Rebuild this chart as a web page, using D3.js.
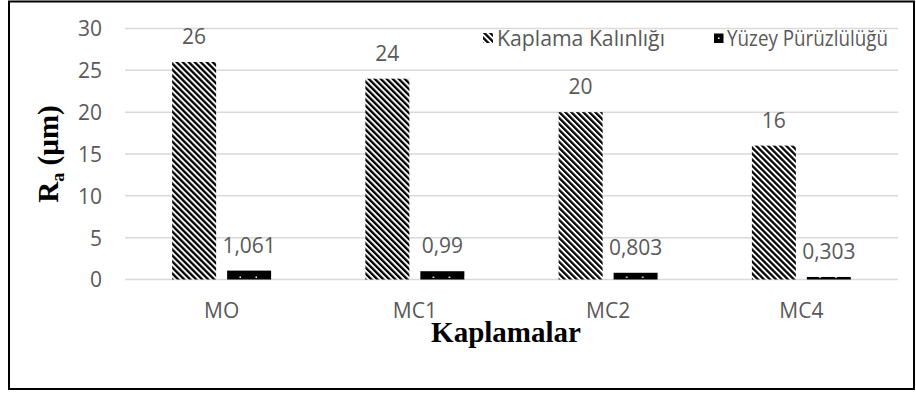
<!DOCTYPE html>
<html>
<head>
<meta charset="utf-8">
<script src="https://cdn.jsdelivr.net/npm/d3@7"></script>
<style>
  html, body { margin: 0; padding: 0; background: #fff; }
  svg { display: block; }
</style>
</head>
<body>
<svg id="chart" width="916" height="394"></svg>
<script>
// Coating samples and the two measured series
const categories = ["MO", "MC1", "MC2", "MC4"];
const seriesNames = ["Kaplama Kalınlığı", "Yüzey Pürüzlülüğü"];
const thickness = [26, 24, 20, 16];          // coating thickness
const roughness = [1.061, 0.99, 0.803, 0.303]; // surface roughness Ra
const yTicks = [0, 5, 10, 15, 20, 25, 30];

const fmt = v => String(v).replace(".", ",");

const svg = d3.select("#chart");
const plot = { left: 125, right: 898, top: 28.5, bottom: 279.5 };
const gray = "#595959";
const fontSans = "'Open Sans', sans-serif";
const fontSerif = "'Liberation Serif', 'Times New Roman', serif";

// Fill patterns: wide downward diagonal stripes, and black with sparse white dots
const defs = svg.append("defs");
const stripe = defs.append("pattern")
  .attr("id", "stripes")
  .attr("patternUnits", "userSpaceOnUse")
  .attr("width", 4.24).attr("height", 4.24)
  .attr("patternTransform", "rotate(-45)");
stripe.append("rect").attr("width", 4.24).attr("height", 4.24).attr("fill", "#fff");
stripe.append("rect").attr("width", 2.3).attr("height", 4.24).attr("fill", "#000");

const dots = defs.append("pattern")
  .attr("id", "dots")
  .attr("patternUnits", "userSpaceOnUse")
  .attr("width", 16).attr("height", 8);
dots.append("rect").attr("width", 16).attr("height", 8).attr("fill", "#000");
dots.append("rect").attr("x", 2.5).attr("y", 4.5).attr("width", 1.5).attr("height", 1.5).attr("fill", "#fff");

// Outer frame
svg.append("rect")
  .attr("x", 9).attr("y", 1.5).attr("width", 905).attr("height", 387.5)
  .attr("fill", "none").attr("stroke", "#000").attr("stroke-width", 2);

// Scales
const y = d3.scaleLinear().domain([0, 30]).range([plot.bottom, plot.top]);
const x0 = d3.scaleBand().domain(categories).range([plot.left, plot.right]).padding(0);
const x1 = d3.scaleBand().domain(seriesNames).range([0, x0.bandwidth()])
  .paddingInner(0.2).paddingOuter(0.857);

// Gridlines
svg.append("g").selectAll("line").data(yTicks).join("line")
  .attr("x1", plot.left).attr("x2", plot.right)
  .attr("y1", d => y(d)).attr("y2", d => y(d))
  .attr("stroke", "#d9d9d9").attr("stroke-width", 1.5);

// Y axis labels
const yAxis = svg.append("g")
  .attr("transform", `translate(${plot.left - 23},0)`)
  .call(d3.axisLeft(y).tickValues(yTicks).tickSize(0).tickPadding(0));
yAxis.select(".domain").remove();
yAxis.selectAll("text")
  .attr("font-family", fontSans).attr("font-size", 21).attr("fill", gray)
  .attr("dy", "0.35em");

// X axis labels
const xAxis = svg.append("g")
  .attr("transform", `translate(0,${plot.bottom})`)
  .call(d3.axisBottom(x0).tickSize(0).tickPadding(0));
xAxis.select(".domain").remove();
xAxis.selectAll("text")
  .attr("font-family", fontSans).attr("font-size", 21).attr("fill", gray)
  .attr("dy", 0).attr("y", 38.5);

// Bars
const rows = categories.map((c, i) => ({ c, vals: [thickness[i], roughness[i]] }));
const groups = svg.append("g").selectAll("g").data(rows).join("g")
  .attr("transform", d => `translate(${x0(d.c)},0)`);

groups.selectAll("rect").data(d => d.vals.map((v, j) => ({ v, s: seriesNames[j] })))
  .join("rect")
  .attr("x", d => x1(d.s))
  .attr("width", x1.bandwidth())
  .attr("y", d => y(d.v))
  .attr("height", d => y(0) - y(d.v))
  .attr("fill", d => d.s === seriesNames[0] ? "url(#stripes)" : "url(#dots)");

// Value labels
groups.selectAll("text").data(d => d.vals.map((v, j) => ({ v, s: seriesNames[j] })))
  .join("text")
  .attr("x", d => x1(d.s) + x1.bandwidth() / 2)
  .attr("y", d => y(d.v) - 18)
  .attr("text-anchor", "middle")
  .attr("font-family", fontSans).attr("font-size", 21).attr("fill", gray)
  .text(d => fmt(d.v));

// Legend
const legend = svg.append("g");
legend.append("rect").attr("x", 483).attr("y", 33).attr("width", 10).attr("height", 10)
  .attr("fill", "url(#stripes)");
legend.append("text").attr("x", 497).attr("y", 46)
  .attr("font-family", fontSans).attr("font-size", 21).attr("fill", gray)
  .attr("textLength", 168).attr("lengthAdjust", "spacingAndGlyphs")
  .text(seriesNames[0]);
legend.append("rect").attr("x", 714).attr("y", 33.5).attr("width", 9.5).attr("height", 9.5)
  .attr("fill", "#000");
legend.append("rect").attr("x", 718).attr("y", 37.5).attr("width", 1.5).attr("height", 1.5)
  .attr("fill", "#fff");
legend.append("text").attr("x", 727).attr("y", 46)
  .attr("font-family", fontSans).attr("font-size", 21).attr("fill", gray)
  .attr("textLength", 161).attr("lengthAdjust", "spacingAndGlyphs")
  .text(seriesNames[1]);

// Axis titles
svg.append("text")
  .attr("x", 506).attr("y", 342)
  .attr("text-anchor", "middle")
  .attr("font-family", fontSerif).attr("font-weight", "bold").attr("font-size", 29)
  .attr("fill", "#000")
  .text("Kaplamalar");

const yt = svg.append("text")
  .attr("transform", `translate(58,${(plot.top + plot.bottom) / 2}) rotate(-90)`)
  .attr("text-anchor", "middle")
  .attr("font-family", fontSerif).attr("font-weight", "bold").attr("font-size", 29)
  .attr("fill", "#000");
yt.append("tspan").text("R");
yt.append("tspan").attr("font-size", 18).attr("dy", 6).text("a");
yt.append("tspan").attr("dy", -6).text(" (µm)");
</script>
</body>
</html>
